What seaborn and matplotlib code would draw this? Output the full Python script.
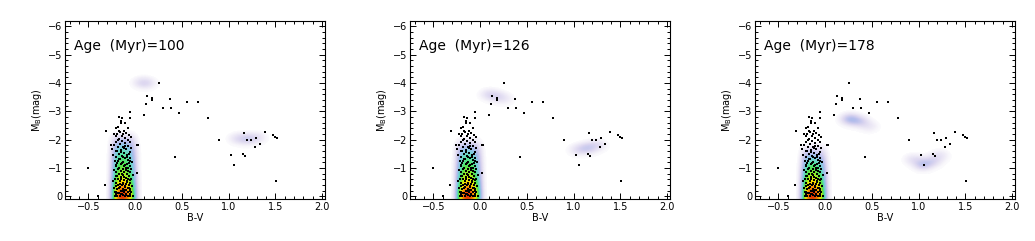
import numpy as np
import seaborn as sns
import matplotlib.pyplot as plt
from matplotlib.colors import LinearSegmentedColormap
from matplotlib.ticker import MultipleLocator

# observed stars (same in every panel): (B-V, M_B)
ms_stars = [
    (-0.22, 0.00), (-0.19, -0.02), (-0.16, 0.00), (-0.13, -0.03), (-0.11, 0.00), (-0.08, -0.02),
    (-0.05, 0.00), (-0.02, -0.01), (-0.14, -0.06), (-0.10, -0.08), (-0.06, -0.07), (-0.20, -0.09),
    (-0.21, -0.15), (-0.17, -0.12), (-0.12, -0.14), (-0.08, -0.16), (-0.04, -0.13), (-0.15, -0.20),
    (-0.10, -0.22), (-0.19, -0.25), (-0.13, -0.27), (-0.06, -0.24), (-0.23, -0.30), (-0.16, -0.32),
    (-0.11, -0.33), (-0.08, -0.30), (-0.03, -0.35), (-0.14, -0.38), (-0.18, -0.40), (-0.10, -0.42),
    (-0.06, -0.45), (-0.20, -0.47), (-0.13, -0.48), (-0.16, -0.52), (-0.09, -0.50),
    (-0.24, -0.55), (-0.12, -0.57), (-0.05, -0.58), (-0.18, -0.62), (-0.10, -0.63), (-0.15, -0.67),
    (-0.07, -0.70), (-0.21, -0.72), (-0.13, -0.74), (-0.02, -0.75), (-0.17, -0.78), (-0.09, -0.80),
    (-0.12, -0.84), (-0.20, -0.86), (-0.06, -0.86), (-0.15, -0.90), (-0.10, -0.92), (-0.23, -0.94),
    (-0.04, -0.95), (-0.13, -0.97), (-0.17, -1.00), (-0.08, -1.00), (0.02, -0.82),
    (-0.21, -1.05), (-0.12, -1.06), (-0.06, -1.08), (-0.15, -1.12), (-0.09, -1.15), (-0.19, -1.18),
    (-0.03, -1.20), (-0.13, -1.22), (-0.22, -1.26), (-0.08, -1.27), (-0.16, -1.30), (-0.11, -1.34),
    (-0.05, -1.36), (-0.20, -1.40), (-0.14, -1.42), (-0.24, -1.44), (-0.09, -1.46), (-0.17, -1.50),
    (-0.12, -1.53), (-0.06, -1.56), (-0.21, -1.58), (-0.15, -1.62), (-0.10, -1.65), (-0.25, -1.68),
    (-0.04, -1.70), (-0.18, -1.72), (-0.13, -1.75), (-0.08, -1.78), (-0.23, -1.80), (-0.26, -1.82),
    (-0.16, -1.84), (-0.11, -1.88), (-0.05, -1.90), (-0.20, -1.92), (-0.14, -1.95), (-0.08, -1.98),
    (-0.17, -2.02), (-0.11, -2.05), (-0.04, -2.08), (-0.21, -2.12), (-0.14, -2.14), (-0.07, -2.16),
    (-0.19, -2.20), (-0.23, -2.21), (-0.10, -2.22), (-0.16, -2.25), (-0.12, -2.30), (-0.17, -2.30),
    (0.03, -1.80), (-0.18, -2.45), (-0.20, -2.42), (-0.15, -2.57), (-0.11, -2.60), (-0.15, -2.66),
    (-0.14, -2.75), (-0.05, -2.75), (-0.05, -2.97), (-0.08, -2.40), (-0.17, -2.80), (-0.31, -2.31),
    (-0.18, -0.10), (-0.14, -0.18), (-0.07, -0.28), (-0.11, -0.37), (-0.20, -0.35), (-0.09, -0.55),
    (-0.15, -0.60), (-0.12, -0.68), (-0.18, -0.95), (-0.11, -1.10), (-0.07, -1.16), (-0.18, -1.25),
    (-0.13, -1.38), (-0.07, -1.48), (-0.19, -1.60), (-0.10, -0.05), (-0.16, -0.44), (-0.19, -0.72),
    (-0.08, -0.88), (-0.17, -1.32), (-0.22, -0.15), (-0.12, -1.70), (-0.04, -0.62),
    (-0.15, -0.08), (-0.12, -0.22), (-0.17, -0.28), (-0.05, -0.20), (-0.13, -0.42), (-0.08, -0.62),
    (-0.14, -0.80), (-0.10, -0.98), (-0.20, -1.10), (-0.14, -1.18), (-0.09, -1.38), (-0.15, -1.55),
    (-0.11, -1.78), (-0.18, -1.98), (-0.13, -2.18), (-0.06, -1.25), (-0.22, -0.62), (-0.07, -0.40),
]
evolved_stars = [
    (-0.50, -1.00), (-0.40, 0.00), (-0.32, -0.40), (0.25, -4.00), (0.13, -3.55), (0.18, -3.47),
    (0.18, -3.40), (0.12, -3.27), (0.10, -2.87), (0.30, -3.13), (0.37, -3.45), (0.38, -3.10),
    (0.47, -2.93), (0.55, -3.33), (0.67, -3.33), (0.78, -2.77), (0.43, -1.40), (0.90, -1.97),
    (1.02, -1.45), (1.06, -1.10), (1.15, -1.50), (1.17, -1.42), (1.16, -2.24), (1.20, -1.97),
    (1.24, -1.97), (1.29, -2.06), (1.28, -1.72), (1.33, -1.84), (1.39, -2.27), (1.47, -2.16),
    (1.50, -2.10), (1.52, -2.05), (1.51, -0.55), (0.02, -1.80),
]

# model Hess diagram, main sequence: relative weight per colour column and per M_B row
ages = [100, 126, 178]
ms_cols = [-0.24, -0.21, -0.18, -0.15, -0.12, -0.09, -0.06, -0.03, 0.00]
ms_col_w = [0.35, 0.75, 0.95, 1.0, 1.0, 0.95, 0.85, 0.65, 0.35]
ms_rows = [0.2, 0.0, -0.2, -0.4, -0.6, -0.8, -1.0, -1.2, -1.4, -1.6, -1.8, -2.0]
ms_row_w = {
    100: [1.0, 1.0, 0.88, 0.76, 0.66, 0.58, 0.52, 0.47, 0.42, 0.36, 0.28, 0.16],
    126: [1.0, 1.0, 0.88, 0.76, 0.66, 0.58, 0.51, 0.45, 0.38, 0.3, 0.16, 0.0],
    178: [1.0, 1.0, 0.88, 0.76, 0.66, 0.56, 0.48, 0.38, 0.26, 0.12, 0.0, 0.0],
}
# model blue-loop / red-clump features: (B-V, M_B, peak level)
blobs = {
    100: [(0.07, -4.00, 0.065), (0.13, -3.97, 0.065),
          (1.10, -2.02, 0.07), (1.20, -2.00, 0.11), (1.30, -2.05, 0.07)],
    126: [(0.10, -3.58, 0.08), (0.18, -3.50, 0.075), (0.26, -3.42, 0.045),
          (1.05, -1.62, 0.075), (1.15, -1.68, 0.13), (1.25, -1.78, 0.08)],
    178: [(0.27, -2.70, 0.19), (0.37, -2.62, 0.12), (0.47, -2.45, 0.055),
          (0.95, -1.28, 0.075), (1.05, -1.10, 0.16), (1.15, -1.22, 0.10), (1.22, -1.42, 0.065)],
}

cmap = LinearSegmentedColormap.from_list("hess", [
    (0.0, "#ffffff"), (0.04, "#f2eff8"), (0.12, "#dcd6f0"), (0.22, "#b4bdec"),
    (0.32, "#82cfe4"), (0.42, "#58e0a8"), (0.52, "#50e050"), (0.63, "#a8f020"),
    (0.73, "#f4ea00"), (0.86, "#ff9c00"), (1.0, "#e23000")])

gx = np.linspace(-0.75, 2.0, 440)
gy = np.linspace(-6.2, 0.1, 320)
GX, GY = np.meshgrid(gx, gy)


def model_density(age):
    dens = np.zeros_like(GX)
    for cx, cw in zip(ms_cols, ms_col_w):
        for ry, rw in zip(ms_rows, ms_row_w[age]):
            dens += cw * rw * np.exp(-0.5 * (((GX - cx) / 0.03) ** 2 + ((GY - ry) / 0.16) ** 2))
    dens /= dens.max()
    for bx, by, bw in blobs[age]:
        dens += bw * np.exp(-0.5 * (((GX - bx) / 0.065) ** 2 + ((GY - by) / 0.13) ** 2))
    return np.ma.masked_less(dens, 0.01)


stars_bv = [s[0] for s in ms_stars + evolved_stars]
stars_mb = [s[1] for s in ms_stars + evolved_stars]

sns.set_style("ticks")
plt.rcParams['font.family'] = ['DejaVu Sans']
plt.rcParams['text.color'] = 'black'
plt.rcParams['axes.labelcolor'] = 'black'
fig = plt.figure(figsize=(10.35, 2.41), dpi=100)

for i, age in enumerate(ages):
    ax = fig.add_axes([(65 + 345 * i) / 1035, 42 / 241, 260 / 1035, 178.3 / 241])
    ax.pcolormesh(GX, GY, model_density(age), cmap=cmap, vmin=0, vmax=1,
                  shading='gouraud', zorder=1)
    sns.scatterplot(x=stars_bv, y=stars_mb, ax=ax, marker='s',
                    s=4, color='black', linewidth=0, zorder=3)
    ax.set_xlim(-0.75, 2.03)
    ax.set_ylim(0.1, -6.2)
    ax.xaxis.set_major_locator(MultipleLocator(0.5))
    ax.xaxis.set_minor_locator(MultipleLocator(0.1))
    ax.yaxis.set_major_locator(MultipleLocator(1))
    ax.yaxis.set_minor_locator(MultipleLocator(0.2))
    ax.tick_params(which='both', direction='in', top=True, right=True, bottom=True, left=True,
                   labelsize=7, colors='black', width=0.7)
    ax.tick_params(which='major', length=4, pad=2)
    ax.tick_params(which='minor', length=2)
    for sp in ax.spines.values():
        sp.set_linewidth(0.8)
        sp.set_color('black')
    ax.set_xlabel("B-V", fontsize=7, labelpad=1)
    ax.set_ylabel("M$_\\mathregular{B}$(mag)", fontsize=7, labelpad=3)
    ax.text(0.035, 0.86, f"Age  (Myr)={age}", transform=ax.transAxes,
            fontsize=10, va='center', ha='left', color='black')

plt.savefig("out.png", dpi=100)
